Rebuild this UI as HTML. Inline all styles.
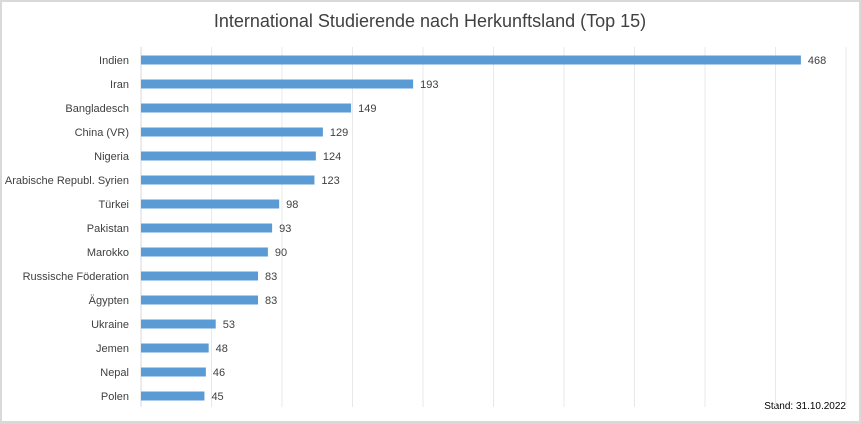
<!DOCTYPE html>
<html><head><meta charset="utf-8"><style>
body{margin:0;width:861px;height:424px;overflow:hidden;background:#fff;font-family:"Liberation Sans",sans-serif}
#frame{position:absolute;left:0;top:0;width:857px;height:419px;border:2px solid #d9d9d9;border-bottom-width:3px;box-sizing:content-box}
</style></head><body>
<div id="frame"></div>
<svg id="c" width="861" height="424" style="position:absolute;left:0;top:0">
<text x="430" y="27" text-anchor="middle" font-size="18" fill="#404040">International Studierende nach Herkunftsland (Top 15)</text>
<text x="846" y="409" text-anchor="end" font-size="10" fill="#000">Stand: 31.10.2022</text>
<g id="grid"></g><g id="bars"></g>
</svg>
<script>
const categories=["Indien","Iran","Bangladesch","China (VR)","Nigeria","Arabische Republ. Syrien","Türkei","Pakistan","Marokko","Russische Föderation","Ägypten","Ukraine","Jemen","Nepal","Polen"];
const values=[468,193,149,129,124,123,98,93,90,83,83,53,48,46,45];
const gridTicks=[0,50,100,150,200,250,300,350,400,450,500];
const ns="http://www.w3.org/2000/svg";
const x0=141,x1=846,vmax=500,y0=60,step=24;
const xs=v=>x0+(v/vmax)*(x1-x0);
const ys=i=>y0+i*step;
const grid=document.getElementById('grid'),bars=document.getElementById('bars');
gridTicks.forEach(t=>{
 const l=document.createElementNS(ns,'line');
 
 
 l.setAttribute('x1',xs(t));l.setAttribute('x2',xs(t));l.setAttribute('y1',47);l.setAttribute('y2',407);
 l.setAttribute('stroke',t===0?'#d9d9d9':'#e8e8e8');l.setAttribute('stroke-width',1);
 grid.appendChild(l);
});
categories.forEach((c,i)=>{
 const y=ys(i);
 const lab=document.createElementNS(ns,'text');
 
 
 lab.setAttribute('x',129);lab.setAttribute('y',y+4);lab.setAttribute('text-anchor','end');
 lab.setAttribute('font-size','11');lab.setAttribute('fill','#404040');lab.textContent=c;
 bars.appendChild(lab);
 const r=document.createElementNS(ns,'rect');
 
 
 r.setAttribute('x',x0);r.setAttribute('y',y-4.5);r.setAttribute('width',xs(values[i])-x0);r.setAttribute('height',9);
 r.setAttribute('fill','#5b9bd5');
 bars.appendChild(r);
 const v=document.createElementNS(ns,'text');
 
 
 v.setAttribute('x',xs(values[i])+7);v.setAttribute('y',y+4);
 v.setAttribute('font-size','11');v.setAttribute('fill','#404040');v.textContent=values[i];
 bars.appendChild(v);
});
</script>
</body></html>
